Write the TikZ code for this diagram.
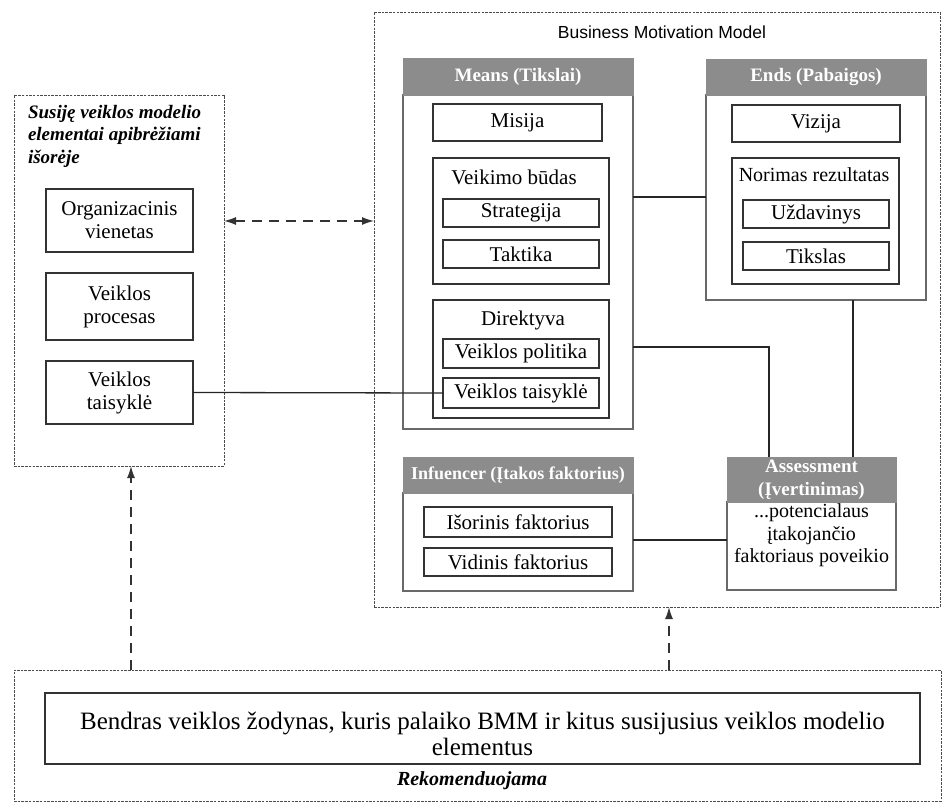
\documentclass[tikz,border=0pt]{standalone}
\usepackage{fontspec}
\setmainfont{Liberation Serif}
\newfontfamily\sansfont{Liberation Sans}
\usetikzlibrary{arrows.meta}
\definecolor{hdrgray}{RGB}{140,140,140}
\definecolor{framegray}{RGB}{105,105,105}

\begin{document}
\begin{tikzpicture}[x=1pt,y=-1pt,
  every node/.style={inner sep=0pt, outer sep=0pt},
  txt/.style={font=\fontsize{21}{23}\selectfont},
  item/.style={draw=black!80, line width=1.4pt, fill=white, txt, align=center},
  group/.style={draw=framegray, line width=1.3pt},
  hdr/.style={draw=hdrgray, fill=hdrgray, text=white, line width=1pt,
              font=\fontsize{19}{23}\selectfont\bfseries, align=center},
  frame/.style={draw=black!70, line width=0.9pt, dash pattern=on 2.5pt off 1.2pt},
  link/.style={draw=black!85, line width=1.8pt},
  dlink/.style={draw=black!80, line width=1.3pt, dash pattern=on 10pt off 7pt},
  tip/.style={-{Latex[length=12pt,width=8pt]}},
  tips/.style={{Latex[length=12pt,width=8pt]}-{Latex[length=12pt,width=8pt]}},
]
\useasboundingbox (0,0) rectangle (942,803);

% ---------- externally defined elements ----------
\node[frame, minimum width=210pt, minimum height=371pt] (lbox) at (119,280.5) {};
\node[anchor=north west, align=left, font=\fontsize{19}{22.5}\selectfont\bfseries\itshape]
  (ltitle) at (28,105) {Susiję veiklos modelio\\elementai apibrėžiami\\išorėje};
\node[item, minimum width=147pt, minimum height=63pt] (org)  at (119.5,220.5) {Organizacinis\\vienetas};
\node[item, minimum width=147pt, minimum height=67pt] (proc) at (119.5,306.5) {Veiklos\\procesas};
\node[item, minimum width=147pt, minimum height=63pt] (rule) at (119.5,392.5) {Veiklos\\taisyklė};

% ---------- Business Motivation Model ----------
\node[frame, minimum width=566pt, minimum height=595pt] (bmm) at (657,309.5) {};
\node[font=\sansfont\fontsize{17.5}{19}\selectfont] (bmmtitle) at (662,32) {Business Motivation Model};

% Means
\node[group, minimum width=230pt, minimum height=334pt] (meansbody) at (518,262) {};
\node[hdr, minimum width=230pt, minimum height=37pt] (meanshdr) at (518,76.5) {Means (Tikslai)};
\node[item, minimum width=169pt, minimum height=37pt] (misija) at (517.5,122.5) {Misija};
\node[item, minimum width=176pt, minimum height=126pt] (veikimo) at (521,221) {};
\node[txt] (veikimotitle) at (514,177) {Veikimo būdas};
\node[item, minimum width=156pt, minimum height=28pt] (strategija) at (521,213) {Strategija};
\node[item, minimum width=156pt, minimum height=28pt] (taktika) at (521,254) {Taktika};
\node[item, minimum width=176pt, minimum height=118pt] (direktyva) at (521,359) {};
\node[txt] (direktyvatitle) at (523,320) {Direktyva};
\node[item, minimum width=156pt, minimum height=29pt] (politika) at (521,353.5) {Veiklos politika};
\node[item, minimum width=156pt, minimum height=30pt] (taisykle) at (521,393) {Veiklos taisyklė};

% Ends
\node[group, minimum width=220pt, minimum height=205pt] (endsbody) at (816,197.5) {};
\node[hdr, minimum width=220pt, minimum height=36pt] (endshdr) at (816,77) {Ends (Pabaigos)};
\node[item, minimum width=168pt, minimum height=37pt] (vizija) at (816,123.5) {Vizija};
\node[item, minimum width=167pt, minimum height=126pt] (norimas) at (815.5,221) {};
\node[font=\fontsize{20}{22}\selectfont] (norimastitle) at (814,175) {Norimas rezultatas};
\node[item, minimum width=146pt, minimum height=28pt] (uzdavinys) at (816,214) {Uždavinys};
\node[item, minimum width=146pt, minimum height=28pt] (tikslas) at (816,256) {Tikslas};

% Influencer
\node[group, minimum width=230pt, minimum height=98pt] (inflbody) at (518,542) {};
\node[hdr, minimum width=230pt, minimum height=36pt, font=\fontsize{18}{20}\selectfont\bfseries]
  (inflhdr) at (518,475) {Infuencer (Įtakos faktorius)};
\node[item, minimum width=188pt, minimum height=30pt] (isorinis) at (518,522) {Išorinis faktorius};
\node[item, minimum width=188pt, minimum height=28pt] (vidinis) at (518,562) {Vidinis faktorius};

% Assessment
\node[group, minimum width=169pt, minimum height=88pt] (assbody) at (811.5,546) {};
\node[hdr, minimum width=169pt, minimum height=45pt] (asshdr) at (811.5,479.5) {Assessment\\(Įvertinimas)};
\node[align=center, font=\fontsize{20}{22.5}\selectfont] (asstext) at (811.5,535.5)
  {...potencialaus\\įtakojančio\\faktoriaus poveikio};

% ---------- common vocabulary ----------
\node[frame, minimum width=927pt, minimum height=131pt] (bottom) at (477.5,735.5) {};
\node[item, minimum width=875pt, minimum height=71pt] (vocab) at (482.5,728.5) {};
\node[align=center, font=\fontsize{25}{26}\selectfont] (vocabtext) at (482.5,734)
  {Bendras veiklos žodynas, kuris palaiko BMM ir kitus susijusius veiklos modelio\\elementus};
\node[font=\fontsize{20}{22}\selectfont\bfseries\itshape] (rekom) at (472,781) {Rekomenduojama};

% ---------- connectors ----------
\draw[dlink, tips] (lbox.east |- 0,221) -- (bmm.west |- 0,221);
\draw[dlink, tip] (bottom.north -| 131,0) -- (lbox.south -| 131,0);
\draw[dlink, tip] (bottom.north -| 669,0) -- (bmm.south -| 669,0);

\draw[link, line width=1.3pt] (rule.east) -- (taisykle.west);
\draw[link] (meansbody.east |- 0,197) -- (endsbody.west |- 0,197);
\draw[link] (meansbody.east |- 0,347) -| (asshdr.north -| 769,0);
\draw[link] (endsbody.south -| 853,0) -- (asshdr.north -| 853,0);
\draw[link] (inflbody.east |- 0,540) -- (assbody.west |- 0,540);
\end{tikzpicture}
\end{document}
